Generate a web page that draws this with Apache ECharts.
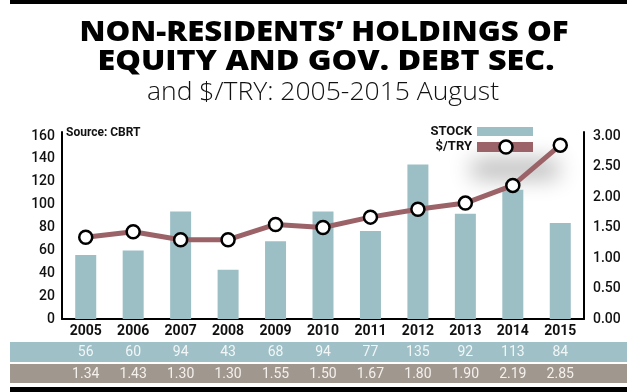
<!DOCTYPE html>
<html><head><meta charset="utf-8">
<script src="https://cdn.jsdelivr.net/npm/echarts@6/dist/echarts.min.js"></script>
<style>html,body{margin:0;padding:0;background:#fff}#c{width:636px;height:392px}</style>
</head><body><div id="c"></div>
<script>
// ---- data ----
const years = ['2005','2006','2007','2008','2009','2010','2011','2012','2013','2014','2015'];
const stock = [56, 60, 94, 43, 68, 94, 77, 135, 92, 113, 84];
const usdTry = [1.34, 1.43, 1.30, 1.30, 1.55, 1.50, 1.67, 1.80, 1.90, 2.19, 2.85];
const leftTickStep = 20;
const leftTickMax = 160;
const rightTickStep = 0.5;
const rightTickMax = 3.0;
const titleLine1 = 'NON-RESIDENTS\u2019 HOLDINGS OF';
const titleLine2 = 'EQUITY AND GOV. DEBT SEC.';
const subtitle = 'and $/TRY: 2005-2015 August';
const sourceText = 'Source: CBRT';
const legendStock = 'STOCK';
const legendRate = '$/TRY';

// ---- styling ----
const C_BAR = '#9cbfc5';
const C_LINE = '#9b6368';
const C_ROW1 = '#9fc0c6';
const C_ROW2 = '#a0978f';
const NUM_FONT = 'Roboto';

const meas = document.createElement('canvas').getContext('2d');
function fit(text, font, target) { meas.font = font; return target / meas.measureText(text).width; }

const f1 = '800 29px "Open Sans"';
const f3 = '300 25px "Open Sans"';
const s1 = fit(titleLine1, f1, 489);
const s2 = fit(titleLine2, f1, 457);
const s3 = fit(subtitle, f3, 352);

// axis top extends a few px above the top tick
const extra = 163.5 / 160;

const chart = echarts.init(document.getElementById('c'), null, {renderer: 'canvas'});
chart.setOption({
  animation: false,
  backgroundColor: '#fff',
  grid: {left: 62, right: 52, top: 132, bottom: 73},
  xAxis: [
    {type: 'category', data: years, position: 'bottom',
     axisLine: {lineStyle: {color: '#000', width: 2}}, axisTick: {show: false},
     axisLabel: {color: '#111', fontFamily: NUM_FONT, fontWeight: 'bold', fontSize: 14, margin: 5}},
    {type: 'category', data: years, position: 'bottom', offset: 33,
     axisLine: {show: false}, axisTick: {show: false},
     axisLabel: {color: '#f2f6f7', fontFamily: NUM_FONT, fontSize: 14, margin: 0, verticalAlign: 'middle',
       formatter: (v, i) => String(stock[i])}},
    {type: 'category', data: years, position: 'bottom', offset: 55,
     axisLine: {show: false}, axisTick: {show: false},
     axisLabel: {color: '#f4f0ec', fontFamily: NUM_FONT, fontSize: 14, margin: 0, verticalAlign: 'middle',
       formatter: (v, i) => usdTry[i].toFixed(2)}}
  ],
  yAxis: [
    {type: 'value', min: 0, max: leftTickMax * extra, interval: leftTickStep, position: 'left',
     axisLine: {show: true, lineStyle: {color: '#000', width: 2}}, axisTick: {show: false},
     splitLine: {show: false},
     axisLabel: {color: '#111', fontFamily: NUM_FONT, fontWeight: 500, fontSize: 14, margin: 7, showMaxLabel: false,
       formatter: v => (v <= leftTickMax ? String(v) : '')}},
    {type: 'value', min: 0, max: rightTickMax * extra, interval: rightTickStep, position: 'right',
     axisLine: {show: true, lineStyle: {color: '#000', width: 2}}, axisTick: {show: false},
     splitLine: {show: false},
     axisLabel: {color: '#111', fontFamily: NUM_FONT, fontWeight: 500, fontSize: 14, margin: 9, showMaxLabel: false,
       formatter: v => (v <= rightTickMax + 1e-9 ? v.toFixed(2) : '')}}
  ],
  series: [
    {type: 'bar', name: legendStock, data: stock, xAxisIndex: 0, yAxisIndex: 0, barWidth: 21,
     itemStyle: {color: C_BAR}, z: 2},
    {type: 'line', name: legendRate, data: usdTry, xAxisIndex: 0, yAxisIndex: 1,
     lineStyle: {color: C_LINE, width: 5}, symbol: 'circle', symbolSize: 13,
     itemStyle: {color: '#fff', borderColor: '#000', borderWidth: 2.5}, z: 3}
  ],
  graphic: [
    // frame bars
    {type: 'rect', shape: {x: 10, y: 0, width: 617, height: 4}, style: {fill: '#000'}},
    {type: 'rect', shape: {x: 10, y: 387, width: 617, height: 5}, style: {fill: '#000'}},
    // table rows
    {type: 'rect', shape: {x: 10, y: 342, width: 617, height: 20}, style: {fill: C_ROW1}, z: -1},
    {type: 'rect', shape: {x: 10, y: 364, width: 617, height: 19}, style: {fill: C_ROW2}, z: -1},
    // titles
    {type: 'text', x: 324, y: 33, scaleX: s1, style: {text: titleLine1, font: f1, fill: '#000', textAlign: 'center', textVerticalAlign: 'middle'}},
    {type: 'text', x: 326, y: 62, scaleX: s2, style: {text: titleLine2, font: f1, fill: '#000', textAlign: 'center', textVerticalAlign: 'middle'}},
    {type: 'text', x: 323, y: 93, scaleX: s3, style: {text: subtitle, font: f3, fill: '#111', textAlign: 'center', textVerticalAlign: 'middle'}},
    // source
    {type: 'text', x: 66, y: 133, style: {text: sourceText, font: 'bold 12px Roboto', fill: '#111', textAlign: 'left', textVerticalAlign: 'middle'}},
    // shadow blob
    {type: 'rect', z: -2, shape: {x: 472 - 1000, y: 160, width: 86, height: 18},
     style: {fill: '#000', shadowBlur: 22, shadowColor: 'rgba(0,0,0,0.3)', shadowOffsetX: 1000}},
    // legend
    {type: 'rect', shape: {x: 477, y: 127, width: 56, height: 9}, style: {fill: C_BAR}},
    {type: 'rect', shape: {x: 477, y: 142, width: 56, height: 10}, style: {fill: C_LINE}},
    {type: 'circle', shape: {cx: 506, cy: 147, r: 6.5}, style: {fill: '#fff', stroke: '#000', lineWidth: 2.5}},
    {type: 'text', x: 472, y: 132, style: {text: legendStock, font: 'bold 13px Roboto', fill: '#111', textAlign: 'right', textVerticalAlign: 'middle'}},
    {type: 'text', x: 472, y: 147, style: {text: legendRate, font: 'bold 13px Roboto', fill: '#111', textAlign: 'right', textVerticalAlign: 'middle'}}
  ]
});
</script>
</body></html>
